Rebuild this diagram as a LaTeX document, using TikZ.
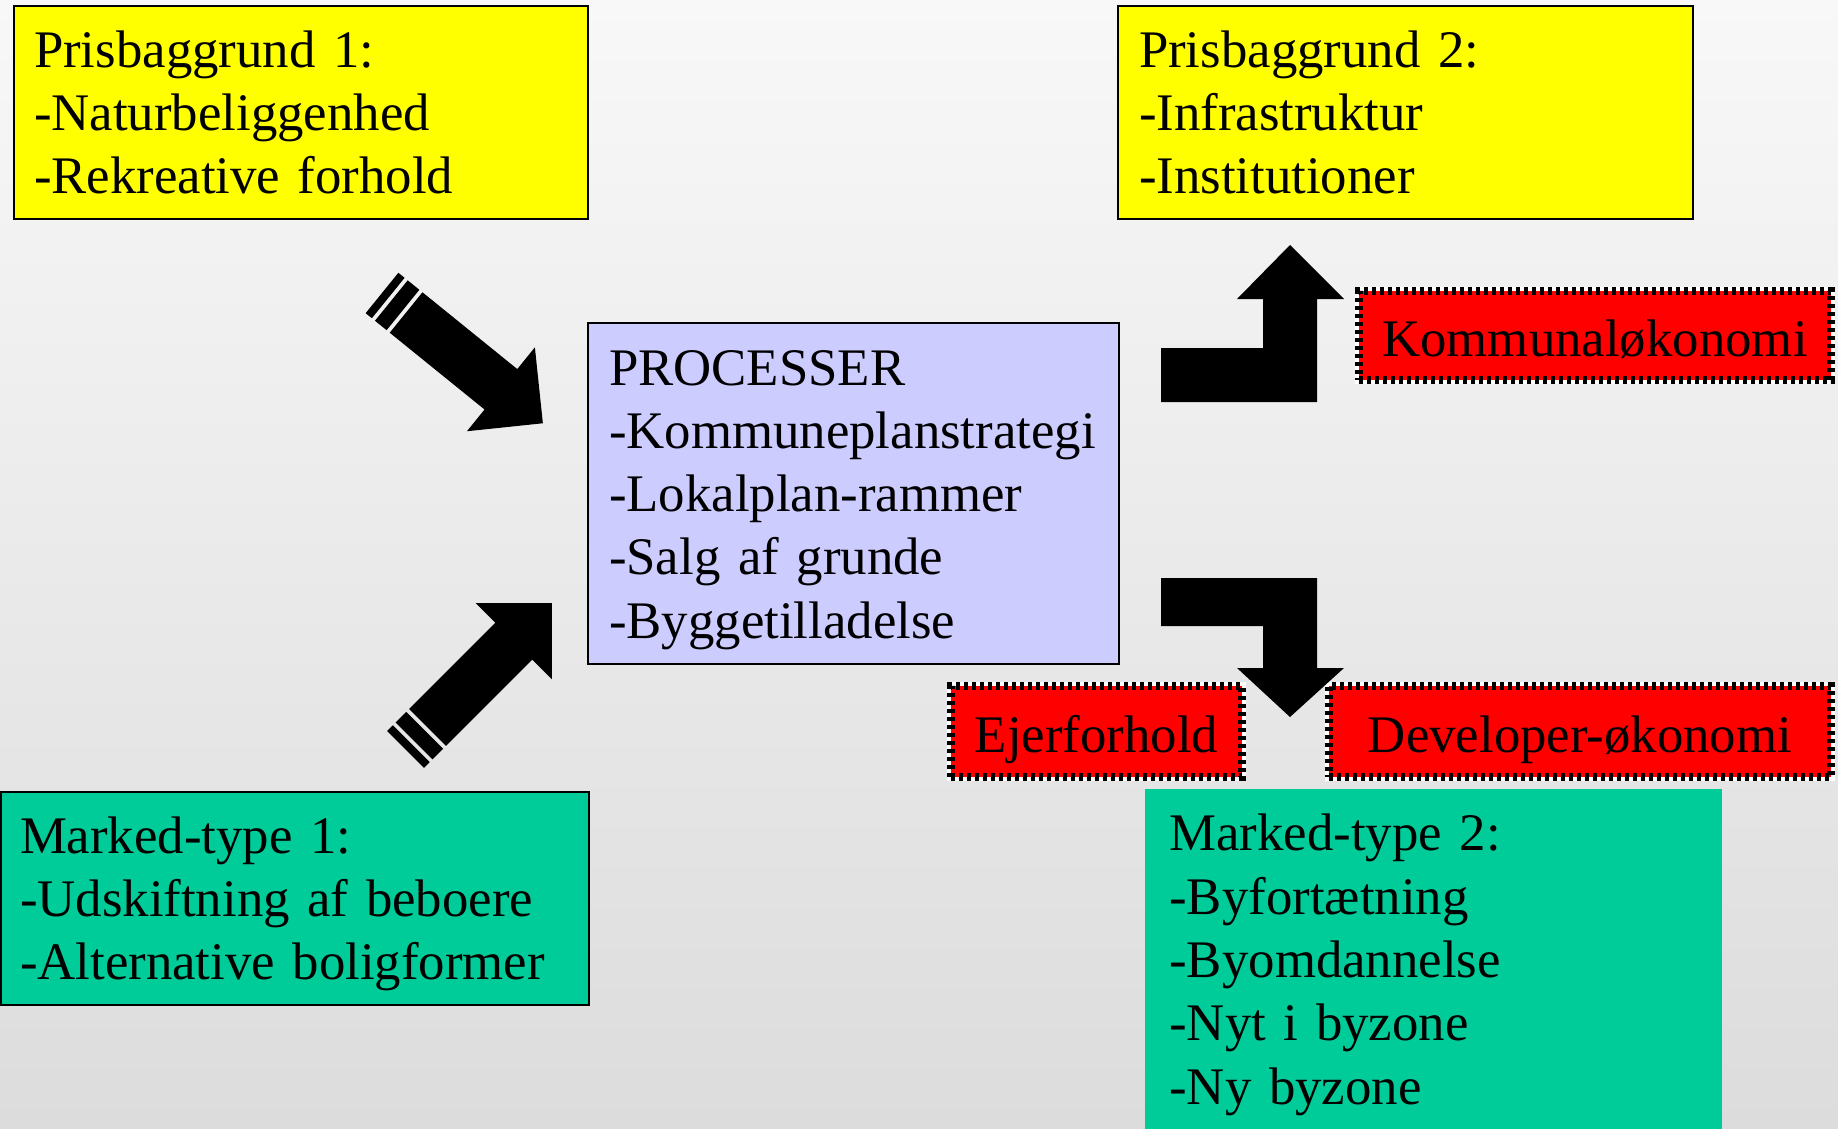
\documentclass[tikz,border=0pt]{standalone}
\usepackage{fontspec}
\setmainfont{Liberation Serif}
\definecolor{prisyellow}{HTML}{FFFF00}
\definecolor{proclilac}{HTML}{CCCCFF}
\definecolor{markgreen}{HTML}{00CC99}
\definecolor{bgtop}{HTML}{F8F8F8}
\definecolor{bgbottom}{HTML}{DCDCDC}
\begin{document}
\begin{tikzpicture}[x=0.5pt,y=-0.5pt,
    textbox/.style={anchor=north west,align=left,inner ysep=0pt,
      font=\fontsize{26.4}{31.65}\selectfont},
    lowered/.style={execute at begin node={\rule{0pt}{23.8pt}}},
    framed box/.style={textbox,draw=black,line width=1pt},
    tag box/.style={fill=red,draw=black,line width=4pt,dash pattern=on 2pt off 2pt,
      preaction={draw=white,solid,line width=4pt},inner sep=0pt,
      text height=21pt,text depth=0pt,
      font=\fontsize{26.4}{31.65}\selectfont} ]
    \useasboundingbox (0,0) rectangle (1838,1129);
    \shade[top color=bgtop,bottom color=bgbottom] (0,0) rectangle (1838,1129);
    % boxes
    \node at (13,5) [framed box,fill=prisyellow,inner xsep=10pt,text width=267pt,minimum height=106.5pt] (pris1)
      {Prisbaggrund 1:\\-Naturbeliggenhed\\-Rekreative forhold};
    \node at (1117,5) [framed box,fill=prisyellow,inner xsep=10.5pt,text width=266.5pt,minimum height=106.5pt] (pris2)
      {Prisbaggrund 2:\\-Infrastruktur\\-Institutioner};
    \node at (587,322) [framed box,lowered,fill=proclilac,inner xsep=10.5pt,text width=244.5pt,minimum height=170.5pt] (proc)
      {PROCESSER\\-Kommuneplanstrategi\\-Lokalplan-rammer\\-Salg af grunde\\-Byggetilladelse};
    \node at (0,791) [framed box,lowered,fill=markgreen,inner xsep=9.5pt,text width=275pt,minimum height=106.5pt] (marked1)
      {Marked-type 1:\\-Udskiftning af beboere\\-Alternative boligformer};
    \node at (1145,789) [textbox,lowered,fill=markgreen,inner xsep=12pt,text width=264.5pt,minimum height=170pt] (marked2)
      {Marked-type 2:\\-Byfortætning\\-Byomdannelse\\-Nyt i byzone\\-Ny byzone};
    % red labels
    \node at (1595,335.5) [tag box,minimum width=236pt,minimum height=44.5pt] (kommune) {Kommunaløkonomi};
    \node at (1096.5,731.5) [tag box,minimum width=145.5pt,minimum height=45.5pt] (ejer) {Ejerforhold};
    \node at (1580,731.5) [tag box,minimum width=251pt,minimum height=45.5pt] (developer) {Developer-økonomi};
    % striped arrows
    \begin{scope}[shift={(382,293)},rotate=-39]
      \fill (0,-26) rectangle (8,26);
      \fill (12,-26) rectangle (27,26);
      \fill (31,-26) -- (153,-26) -- (153,-54) -- (207,0) -- (153,54) -- (153,26) -- (31,26) -- cycle;
    \end{scope}
    \begin{scope}[shift={(405.6,749.4)},rotate=45]
      \fill (0,-26) rectangle (8,26);
      \fill (12,-26) rectangle (27,26);
      \fill (31,-26) -- (153,-26) -- (153,-54) -- (207,0) -- (153,54) -- (153,26) -- (31,26) -- cycle;
    \end{scope}
    % bent arrows
    \fill (1161,348) -- (1263,348) -- (1263,299) -- (1237,299) -- (1290,245) -- (1344,299)
      -- (1317,299) -- (1317,402) -- (1161,402) -- cycle;
    \fill (1161,578) -- (1317,578) -- (1317,668) -- (1344,668) -- (1290,717) -- (1237,668)
      -- (1263,668) -- (1263,626) -- (1161,626) -- cycle;
\end{tikzpicture}
\end{document}
